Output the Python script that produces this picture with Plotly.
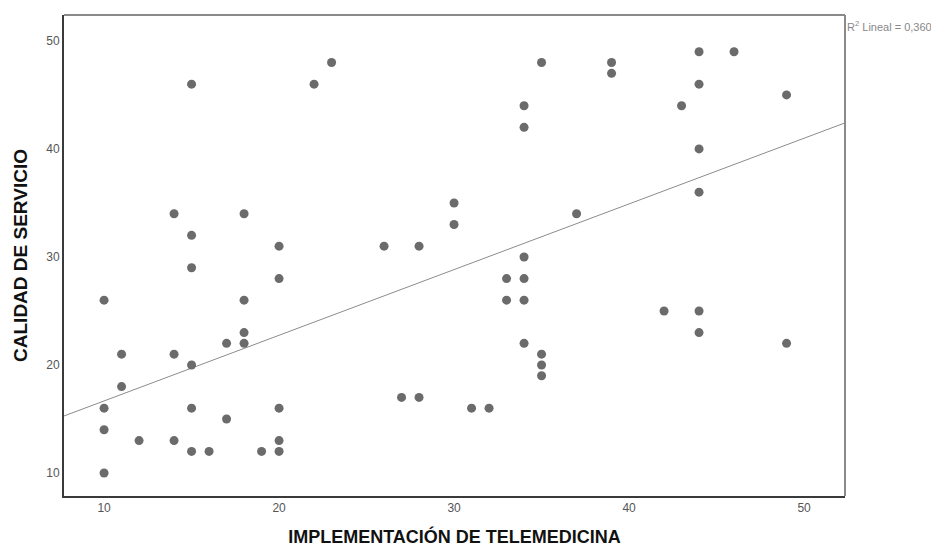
import numpy as np
import plotly.graph_objects as go

# Data
telemedicina = [15, 22, 14, 18, 15, 20, 23, 35, 39, 39,
                34, 34, 30, 30, 37, 26, 28, 34, 44, 46,
                44, 43, 49, 44, 44, 10, 15, 20, 18, 18,
                18, 17, 11, 14, 15, 11, 10, 15, 20, 17,
                10, 12, 14, 20, 15, 16, 19, 20, 10, 33,
                34, 33, 34, 34, 35, 35, 35, 27, 28, 31,
                32, 42, 44, 44, 49]
calidad = [46, 46, 34, 34, 32, 31, 48, 48, 48, 47,
           44, 42, 35, 33, 34, 31, 31, 30, 49, 49,
           46, 44, 45, 40, 36, 26, 29, 28, 26, 23,
           22, 22, 21, 21, 20, 18, 16, 16, 16, 15,
           14, 13, 13, 13, 12, 12, 12, 12, 10, 28,
           28, 26, 26, 22, 21, 20, 19, 17, 17, 16,
           16, 25, 25, 23, 22]
x_ticks = [10, 20, 30, 40, 50]
y_ticks = [10, 20, 30, 40, 50]
r2_label = "R<sup>2</sup> Lineal = 0,360"

# Linear fit coefficients (full sample incl. overlapping points)
fit_slope = 0.608
fit_intercept = 10.59

x_range = [7.71, 52.34]
y_range = [7.87, 52.4]

fit_x = np.array(x_range)
fit_y = fit_slope * fit_x + fit_intercept

fig = go.Figure()
fig.add_trace(go.Scatter(
    x=fit_x, y=fit_y, mode="lines",
    line=dict(color="#8c8c8c", width=1),
    hoverinfo="skip", showlegend=False,
))
fig.add_trace(go.Scatter(
    x=telemedicina, y=calidad, mode="markers",
    marker=dict(color="#6b6b6b", size=9, line=dict(width=0)),
    showlegend=False,
))

fig.update_layout(
    width=931, height=543,
    margin=dict(l=56, r=94, t=7, b=55),
    paper_bgcolor="white", plot_bgcolor="white",
    font=dict(family="Liberation Sans, Arial, sans-serif", color="#444444"),
    xaxis=dict(
        range=x_range, tickvals=x_ticks, showgrid=False, zeroline=False,
        showline=True, linecolor="#3a3a3a", linewidth=2, ticks="",
        tickfont=dict(size=12, color="#555555"),
        title=dict(text="<b>IMPLEMENTACIÓN DE TELEMEDICINA</b>",
                   font=dict(size=18, color="#111111"), standoff=16),
    ),
    yaxis=dict(
        range=y_range, tickvals=y_ticks, showgrid=False, zeroline=False,
        showline=True, linecolor="#3a3a3a", linewidth=2, ticks="",
        tickfont=dict(size=12, color="#555555"),
        title=dict(text="<b>CALIDAD DE SERVICIO</b>",
                   font=dict(size=19, color="#111111"), standoff=14),
    ),
    shapes=[
        dict(type="line", xref="paper", yref="paper", x0=0, x1=1, y0=1, y1=1,
             line=dict(color="#8a8a8a", width=2)),
        dict(type="line", xref="paper", yref="paper", x0=1, x1=1, y0=0, y1=1,
             line=dict(color="#8a8a8a", width=2)),
    ],
    annotations=[
        dict(text=r2_label, xref="paper", yref="paper", x=1.0, y=0.977,
             xanchor="left", yanchor="middle", showarrow=False,
             font=dict(size=11, color="#888888")),
    ],
)

fig.write_html("out.html")
